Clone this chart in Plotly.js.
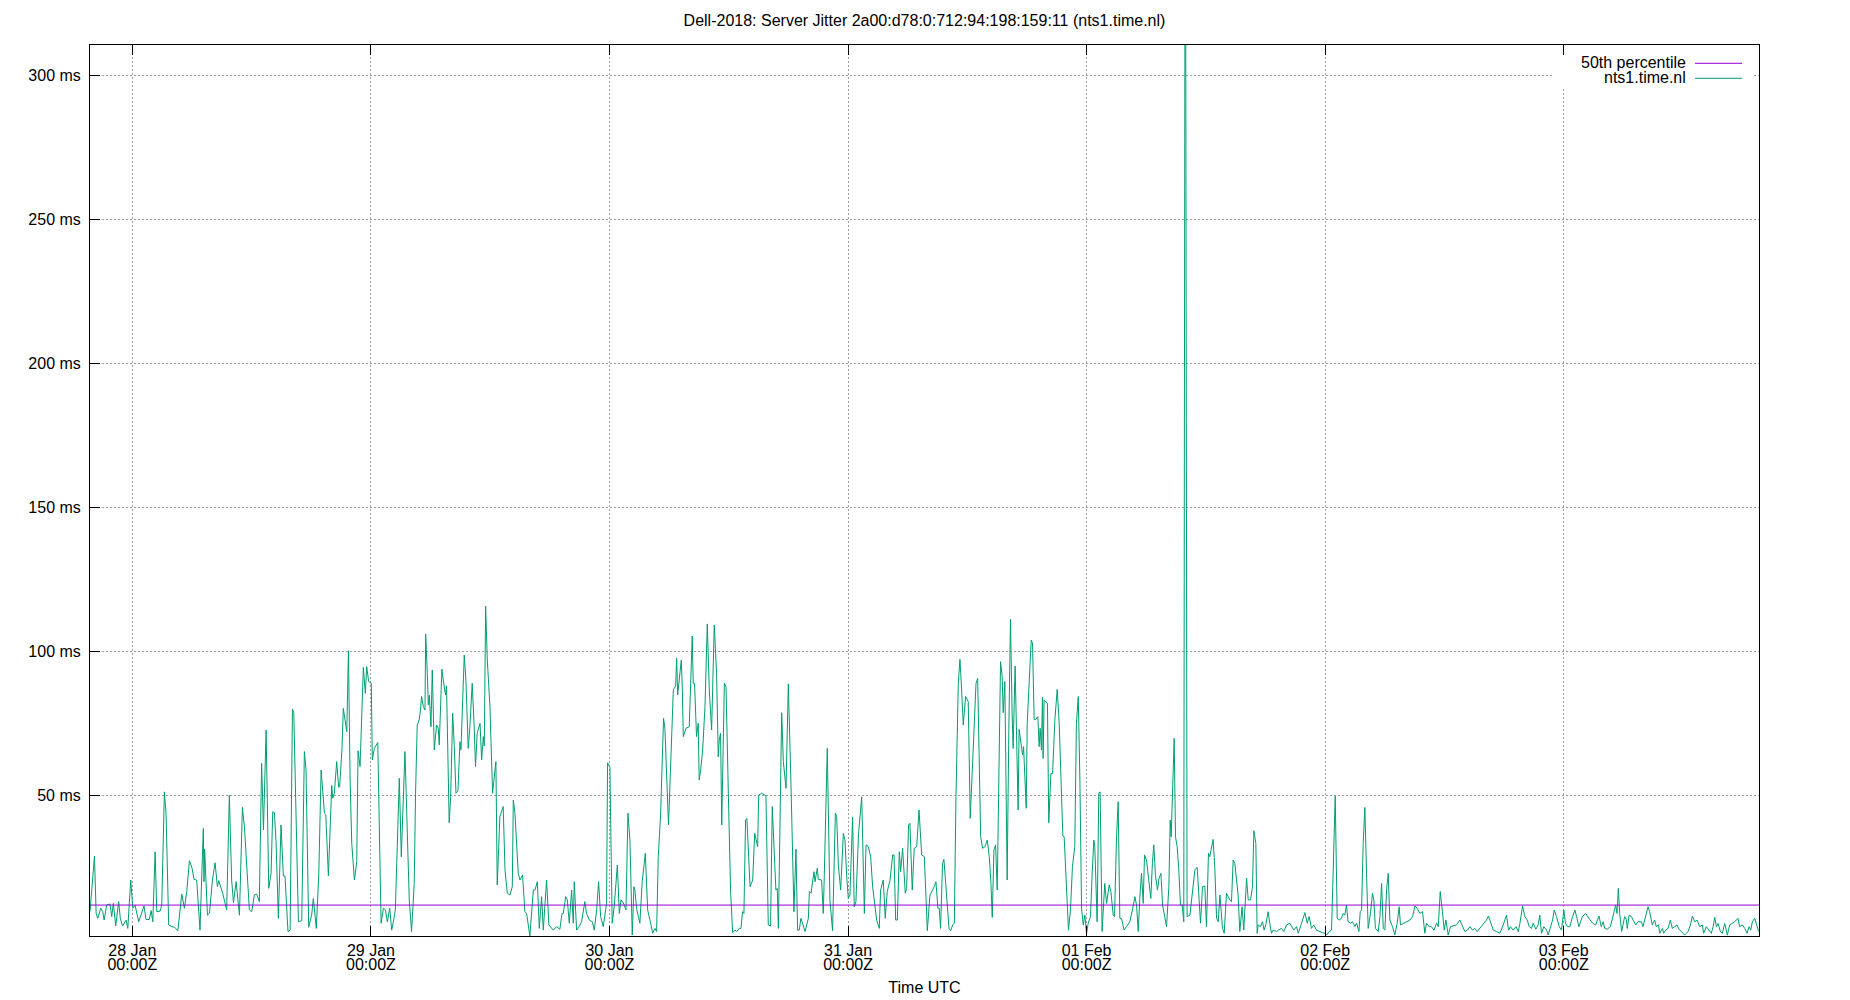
<!DOCTYPE html>
<html>
<head>
<meta charset="utf-8">
<script src="https://cdn.plot.ly/plotly-3.0.1.min.js"></script>
<style>
html, body { margin: 0; padding: 0; background: #ffffff; }
#chart { width: 1850px; height: 1000px; }
</style>
</head>
<body>
<div id="chart"></div>
<script>
// ---- data -------------------------------------------------------------
const chartTitle = 'Dell-2018: Server Jitter 2a00:d78:0:712:94:198:159:11 (nts1.time.nl)';
const serverName = 'nts1.time.nl';
const percentileName = '50th percentile';
const windowStartUTC = Date.UTC(2021, 0, 27, 19, 44, 30);  // first sample
const windowLengthMinutes = 10074;                           // last sample offset

// sample times, minutes after windowStartUTC
const minutesSinceStart = [
0,27,37,47,65,77,85,101,121,131,
141,155,173,183,196,218,228,246,258,272,
294,326,338,358,369,379,393,403,423,433,
449,459,475,493,511,530,554,570,584,600,
616,628,644,664,684,688,692,709,721,739,
755,769,777,801,825,841,855,866,882,902,
920,932,962,976,992,1006,1022,1030,1036,1047,
1063,1079,1093,1103,1113,1123,1137,1153,1167,1177,
1195,1208,1222,1230,1258,1278,1294,1304,1320,1338,
1348,1366,1381,1395,1415,1423,1439,1459,1465,1475,
1489,1501,1507,1521,1529,1550,1560,1570,1580,1596,
1610,1618,1630,1650,1662,1670,1682,1698,1704,1716,
1737,1757,1771,1783,1795,1809,1821,1833,1843,1867,
1879,1901,1927,1941,1957,1965,1975,1987,1995,2001,
2012,2022,2026,2036,2042,2048,2058,2066,2078,2092,
2102,2108,2114,2124,2132,2146,2152,2158,2164,2168,
2177,2189,2199,2209,2221,2233,2239,2259,2269,2283,
2293,2307,2319,2327,2337,2354,2364,2374,2380,2388,
2398,2414,2430,2450,2458,2474,2494,2505,2519,2535,
2549,2555,2565,2585,2595,2611,2625,2635,2655,2665,
2676,2686,2700,2712,2726,2736,2756,2770,2786,2796,
2816,2836,2849,2857,2871,2881,2893,2907,2917,2923,
2937,2953,2967,2987,2997,3014,3032,3044,3058,3070,
3082,3098,3118,3124,3138,3152,3164,3183,3195,3205,
3219,3235,3247,3259,3273,3283,3289,3299,3319,3333,
3352,3366,3384,3396,3410,3420,3430,3444,3462,3470,
3492,3510,3521,3535,3541,3547,3569,3575,3581,3597,
3617,3635,3641,3649,3661,3671,3677,
3686,3698,3712,3726,3738,3752,3768,3782,3792,3798,
3806,3813,3829,3839,3853,3867,3879,3893,3903,3919,
3929,3939,3947,3957,3965,3984,4000,4012,4030,4036,
4054,4080,4094,4108,4118,4140,4148,4155,4175,4185,
4201,4215,4231,4249,4261,4271,4281,4291,4316,4336,
4342,4352,4370,4376,4390,4396,4416,4426,4432,4450,
4466,4482,4499,4507,4517,4531,4547,4557,4567,4577,
4587,4599,4603,4613,4623,4639,4658,4674,4684,4698,
4712,4724,4738,4748,4764,4772,4788,4800,4812,4829,
4845,4853,4863,4873,4885,4893,4905,4921,4929,4941,
4949,4963,4975,4990,5004,5020,5036,5054,5070,5082,
5096,5106,5118,5126,5134,5146,5154,5165,5177,5185,
5195,5207,5217,5227,5241,5251,5261,5271,5285,5301,
5313,5332,5348,5358,5366,5376,5388,5402,5416,5428,
5438,5446,5456,5466,5476,
5496,5506,5512,5522,5536,5546,5556,5566,5572,5584,
5592,5602,5608,5618,5629,5635,5643,5651,5657,5669,
5681,5689,5699,5709,5721,5729,5735,5743,5749,5753,
5759,5779,5787,5800,5810,5824,5838,5850,5864,5872,
5880,5894,5906,5918,5930,5944,5954,5965,5975,5985,
5995,6005,6015,6025,6039,6049,6059,6065,6079,6089,
6097,6109,6125,6136,6152,6162,6176,6184,6196,6206,
6216,6226,6242,6256,6276,6292,6307,6317,6327,6337,
6347,6357,6365,6377,6391,6403,6413,6421,6431,6443,
6453,6464,6474,6488,6498,6512,6520,6526,6534,6544,
6552,6562,6572,6582,6592,6602,6611,6622,6639,6653,
6669,6683,6693,6703,6715,6729,6739,6751,6759,6769,
6779,6789,6800,6810,6820,6836,6846,6860,6870,6880,
6890,6900,6910,6920,6930,6940,6954,6964,6975,6981,
6991,7005,7017,7025,7037,7045,7051,7065,7077,7087,
7097,7111,7121,7131,7141,7162,7172,7192,7206,7222,
7242,7256,7266,7282,7293,
7313,7333,7347,7359,7373,7387,7403,7419,7440,7454,
7464,7480,7494,7504,7516,7528,7540,7554,7564,7574,
7584,7594,7609,7621,7635,7645,7659,7667,7675,7685,
7695,7705,7715,7729,7741,7749,7759,7776,7786,7796,
7806,7816,7826,7836,7846,7862,7876,7890,7902,7910,
7926,7946,7967,7983,7997,8011,8027,8043,8057,8067,
8083,8097,8112,8128,8138,8150,8162,8174,8184,8198,
8212,8228,8248,8268,8285,8299,8315,8329,8345,8359,
8373,8389,8409,8429,8441,8456,8470,8490,8510,8530,
8550,8562,8574,8590,8607,8621,8631,8647,8661,8675,
8687,8701,8711,8727,8741,8751,8761,8775,8792,8802,
8816,8828,8838,8852,8868,8882,8896,8906,8918,8932,
8949,8963,8973,8987,
9008,9028,9052,9072,9088,9108,9122,9133,9143,9157,
9177,9193,9209,9217,9225,9233,9245,9253,9263,9273,
9279,9290,9304,9314,9330,9344,9364,9374,9390,9404,
9414,9430,9444,9454,9467,9475,9491,9499,9511,9525,
9539,9551,9565,9579,9591,9605,9625,9646,9660,9672,
9686,9700,9716,9732,9740,9756,9772,9786,9797,9807,
9817,9827,9841,9853,9867,9883,9897,9913,9927,9947,
9957,9974,9988,10002,10014,10024,10034,10048,10062,10072
];

// server jitter, ms (the one clipped spike runs off the top of the plot)
const jitterMs = [
9.6,28.9,9.0,7.3,10.8,9.6,6.7,11.9,12.3,7.9,
12.5,4.6,13.1,7.3,4.6,6.7,3.8,20.6,10.8,11.9,
6.1,11.6,6.9,6.9,10.0,6.1,30.4,9.6,9.8,11.9,
51.2,43.8,5.0,4.4,4.2,3.0,15.7,10.8,16.6,27.3,
24.7,20.8,20.6,3.2,38.5,20.0,31.3,8.4,9.0,20.6,
26.6,18.3,20.4,16.0,10.2,50.0,20.6,12.7,20.0,8.4,
45.8,39.1,10.2,9.6,15.4,15.7,13.1,49.5,61.1,38.0,
72.7,17.7,22.9,44.3,44.0,33.9,7.3,39.7,22.0,22.0,
2.7,3.2,79.9,78.7,6.1,6.5,65.2,58.8,4.2,8.4,
14.2,3.8,22.9,58.8,43.8,43.4,22.0,53.4,49.0,50.7,
61.7,52.8,53.0,66.3,80.2,72.1,100.2,55.3,33.3,20.6,
27.0,65.5,60.0,94.4,85.4,94.7,89.5,88.9,62.3,66.3,
68.3,5.6,10.8,10.2,6.1,10.8,3.2,6.7,10.2,55.9,
28.7,65.2,13.7,2.7,19.4,50.7,74.4,76.2,79.6,84.3,
80.8,79.6,106.0,92.4,81.4,84.8,73.8,93.5,65.7,74.4,
73.3,67.5,80.2,93.8,90.0,84.8,88.0,68.1,50.7,40.5,
49.5,78.5,66.9,50.7,51.6,68.6,65.7,98.7,90.0,66.3,
73.8,88.9,73.8,60.0,71.5,75.0,62.3,70.4,67.2,115.7,
97.0,80.8,50.7,61.7,18.9,42.6,46.1,24.1,16.0,15.4,
18.3,48.4,43.8,22.9,20.6,22.3,9.6,9.0,1.2,7.9,
17.1,17.1,20.0,3.8,14.8,3.2,20.6,5.0,3.8,3.2,
4.4,3.5,9.0,9.0,14.8,13.7,5.6,17.1,5.6,20.0,
3.2,4.4,6.1,13.1,9.0,6.7,6.1,3.2,10.2,20.0,
7.9,4.4,12.5,61.3,59.7,5.6,11.3,25.8,9.0,13.7,
12.7,10.2,43.8,34.5,1.5,18.3,17.1,10.8,5.6,20.0,
29.9,10.2,5.6,2.1,3.8,2.7,28.7,43.2,76.7,73.3,
39.7,70.4,86.6,88.0,97.6,84.8,97.0,87.7,70.4,73.3,
73.8,105.3,88.9,88.9,70.4,75.0,55.3,
58.8,65.7,80.8,109.5,86.6,72.7,109.1,92.4,63.4,69.2,
71.5,39.7,88.9,87.7,50.7,16.0,2.3,3.2,2.7,3.8,
3.8,9.6,9.0,41.4,42.0,18.3,20.6,36.8,32.2,50.1,
50.7,49.8,5.0,4.6,46.1,17.1,17.7,3.8,78.7,61.7,
52.4,88.7,53.9,9.6,31.3,3.2,3.2,7.3,2.7,7.3,
16.6,16.0,23.5,20.0,24.7,20.8,20.6,9.0,21.8,66.3,
13.7,3.0,43.8,42.6,25.8,17.1,36.8,34.5,22.3,14.2,
15.4,40.3,42.4,11.3,13.1,36.8,49.5,9.0,32.8,32.2,
28.7,18.3,10.2,6.7,3.8,17.1,20.6,7.3,16.6,20.6,
29.3,29.3,6.7,6.7,30.4,23.5,31.6,16.0,17.7,39.7,
40.3,17.1,31.6,32.2,44.9,29.3,28.7,3.0,15.4,16.6,
18.3,20.0,10.8,10.8,3.8,26.4,27.8,19.4,9.0,3.8,
3.0,5.0,5.6,49.5,88.9,97.2,86.6,74.4,84.3,82.5,
42.0,70.4,88.9,90.6,64.6,35.6,31.6,32.2,34.5,28.7,
19.4,7.6,31.0,32.8,17.1,
96.4,91.2,78.7,89.5,20.6,72.7,111.1,78.5,66.3,94.9,
76.2,44.9,72.9,69.2,64.0,66.9,55.3,45.5,75.0,90.0,
103.9,102.8,76.2,76.4,77.3,66.9,73.3,65.7,84.0,62.8,
83.1,81.9,40.5,57.6,57.6,76.2,86.8,75.0,50.7,35.9,
35.6,20.6,3.2,10.2,25.2,32.2,75.0,84.3,55.3,10.8,
5.0,8.4,1.9,5.6,7.9,22.9,34.5,32.2,6.1,50.7,
51.2,2.7,19.4,12.5,18.9,16.6,8.4,7.9,35.6,47.8,
7.3,7.3,3.2,4.4,6.1,10.2,14.8,11.9,2.7,14.8,
22.9,12.5,29.3,27.5,20.6,14.2,27.0,32.8,22.3,17.1,
21.2,22.9,11.9,7.3,4.4,18.3,41.4,35.6,55.3,69.8,
35.6,32.2,24.1,11.9,11.9,6.1,420,7.9,8.4,15.4,
24.1,25.0,15.4,5.6,18.3,18.5,4.4,29.9,28.7,32.2,
34.7,25.2,7.3,6.1,15.4,3.8,2.1,16.0,14.8,13.7,
13.1,27.5,26.4,20.6,15.4,2.7,11.3,3.2,13.1,21.2,
13.7,13.7,18.3,37.7,33.3,2.1,5.0,4.4,6.1,3.2,
5.0,9.6,5.6,2.1,3.2,2.7,3.2,3.8,2.7,5.0,
5.6,4.4,3.2,4.4,2.1,
5.6,9.3,5.6,7.9,3.8,5.0,3.2,2.7,2.3,2.1,
1.5,2.7,3.2,24.1,49.8,7.3,6.7,7.3,9.0,8.4,
11.9,6.1,5.6,6.1,4.4,5.6,2.7,9.6,10.2,33.3,
45.8,22.9,3.8,9.0,16.0,13.7,3.8,2.7,7.9,19.4,
3.8,3.2,17.1,22.9,6.7,4.4,1.5,5.6,11.3,5.0,
5.6,6.1,6.7,7.9,11.6,10.8,9.0,9.6,2.1,5.6,
4.4,4.4,3.2,5.6,4.4,16.6,10.2,3.2,6.7,1.5,
4.4,4.6,5.0,6.7,4.4,2.7,3.2,4.4,3.2,3.8,
2.7,3.8,5.0,6.7,8.1,5.6,3.2,2.7,2.1,5.0,
8.4,3.2,4.4,3.2,4.4,2.7,5.6,11.6,7.9,6.7,
4.4,3.8,5.6,3.5,5.0,8.4,2.1,4.4,3.2,1.5,
4.4,6.7,10.2,7.9,4.4,3.2,10.2,5.6,4.4,4.4,
7.9,10.2,7.9,4.4,
7.9,9.0,6.9,5.5,5.0,8.1,4.4,6.1,3.8,3.5,
4.4,8.1,11.9,9.0,17.7,9.0,2.7,5.0,7.9,6.9,
3.8,8.4,7.9,6.7,5.0,6.1,6.1,4.4,8.4,11.3,
9.6,5.0,6.7,4.4,5.0,2.1,3.8,2.1,3.2,3.8,
6.7,3.8,4.4,5.0,3.5,2.7,1.5,2.7,5.0,8.1,
6.1,6.7,4.4,5.0,2.1,4.4,3.2,2.1,4.4,7.6,
4.4,5.5,2.7,2.1,5.5,1.5,5.0,5.5,6.1,7.3,
4.4,5.0,3.8,2.1,4.4,3.2,6.1,7.3,4.4,2.7
];

const percentile50Ms = 11.9;

const tickDates = ['2021-01-28', '2021-01-29', '2021-01-30', '2021-01-31', '2021-02-01', '2021-02-02', '2021-02-03'];
const tickDayLabels = ['28 Jan', '29 Jan', '30 Jan', '31 Jan', '01 Feb', '02 Feb', '03 Feb'];
const tickTimeLabels = ['00:00Z', '00:00Z', '00:00Z', '00:00Z', '00:00Z', '00:00Z', '00:00Z'];
const yTickValues = [50, 100, 150, 200, 250, 300];
const yTickLabels = ['50 ms', '100 ms', '150 ms', '200 ms', '250 ms', '300 ms'];
const yRange = [1.16, 310.5];

// ---- build --------------------------------------------------------------
if (minutesSinceStart.length !== jitterMs.length) {
  throw new Error('length mismatch ' + minutesSinceStart.length + ' vs ' + jitterMs.length);
}
const sampleTimes = minutesSinceStart.map(m => windowStartUTC + m * 60000);
const windowEnd = windowStartUTC + windowLengthMinutes * 60000;

const FONT = 'Liberation Sans, Arial, Helvetica, sans-serif';
const GREEN = '#009e73';
const PURPLE = '#9400d3';

const traces = [
  {
    type: 'scatter', mode: 'lines', name: serverName,
    x: sampleTimes, y: jitterMs,
    xaxis: 'x', yaxis: 'y',
    line: { color: GREEN, width: 1 },
    hoverinfo: 'skip'
  },
  {
    type: 'scatter', mode: 'lines', name: percentileName,
    x: [windowStartUTC, windowEnd], y: [percentile50Ms, percentile50Ms],
    xaxis: 'x2', yaxis: 'y',
    line: { color: PURPLE, width: 1 },
    hoverinfo: 'skip'
  }
];

// legend placement helpers (paper coordinates of the plot box)
const PL = 90, PR = 1759, PT = 45, PB = 936;
const px = v => (v - PL) / (PR - PL);
const py = v => (PB - v) / (PB - PT);

const layout = {
  width: 1850, height: 1000,
  margin: { l: 90, r: 91, t: 45, b: 64, pad: 0 },
  paper_bgcolor: '#ffffff', plot_bgcolor: '#ffffff',
  font: { family: FONT, size: 16, color: '#000000' },
  showlegend: false,
  hovermode: false,
  title: {
    text: chartTitle,
    font: { family: FONT, size: 16, color: '#000000' },
    x: 0.5, xref: 'paper', xanchor: 'center',
    y: 1 - 20 / 1000, yref: 'container', yanchor: 'middle'
  },
  xaxis: {
    type: 'date',
    range: [windowStartUTC, windowEnd],
    tickmode: 'array', tickvals: tickDates, ticktext: tickDayLabels,
    ticks: 'inside', ticklen: 10, tickwidth: 1, tickcolor: '#000000',
    showline: true, linecolor: '#000000', linewidth: 1, mirror: 'ticks',
    showgrid: true, gridcolor: '#a0a0a0', gridwidth: 1, griddash: '2px,2px',
    zeroline: false,
    tickfont: { family: FONT, size: 16, color: '#000000' },
    ticklabelstandoff: 0,
    automargin: false,
    title: { text: 'Time UTC', font: { family: FONT, size: 16, color: '#000000' }, standoff: 23 }
  },
  xaxis2: {
    type: 'date',
    overlaying: 'x', matches: 'x', anchor: 'y', side: 'bottom',
    tickmode: 'array', tickvals: tickDates, ticktext: tickTimeLabels,
    ticks: '', showline: false, showgrid: false, zeroline: false,
    tickfont: { family: FONT, size: 16, color: '#000000' },
    ticklabelstandoff: 17,
    automargin: false
  },
  yaxis: {
    range: yRange,
    tickmode: 'array', tickvals: yTickValues, ticktext: yTickLabels,
    ticks: 'inside', ticklen: 10, tickwidth: 1, tickcolor: '#000000',
    showline: true, linecolor: '#000000', linewidth: 1, mirror: true,
    showgrid: true, gridcolor: '#a0a0a0', gridwidth: 1, griddash: '2px,2px',
    zeroline: false,
    tickfont: { family: FONT, size: 16, color: '#000000' },
    ticklabelstandoff: 5,
    automargin: false
  },
  shapes: [
    { type: 'rect', xref: 'paper', yref: 'paper', layer: 'above',
      x0: px(1552), x1: px(1753), y0: py(87), y1: py(56),
      fillcolor: '#ffffff', line: { width: 0 } },
    { type: 'line', xref: 'paper', yref: 'paper', layer: 'above',
      x0: px(1695), x1: px(1742), y0: py(63.3), y1: py(63.3),
      line: { color: PURPLE, width: 1 } },
    { type: 'line', xref: 'paper', yref: 'paper', layer: 'above',
      x0: px(1695), x1: px(1742), y0: py(78.3), y1: py(78.3),
      line: { color: GREEN, width: 1 } }
  ],
  annotations: [
    { xref: 'paper', yref: 'paper', x: px(1688), y: py(62.5), xanchor: 'right', yanchor: 'middle',
      text: percentileName, showarrow: false, font: { family: FONT, size: 16, color: '#000000' } },
    { xref: 'paper', yref: 'paper', x: px(1688), y: py(77.5), xanchor: 'right', yanchor: 'middle',
      text: serverName, showarrow: false, font: { family: FONT, size: 16, color: '#000000' } }
  ]
};

Plotly.newPlot('chart', traces, layout, { displayModeBar: false, staticPlot: true });
</script>
</body>
</html>
